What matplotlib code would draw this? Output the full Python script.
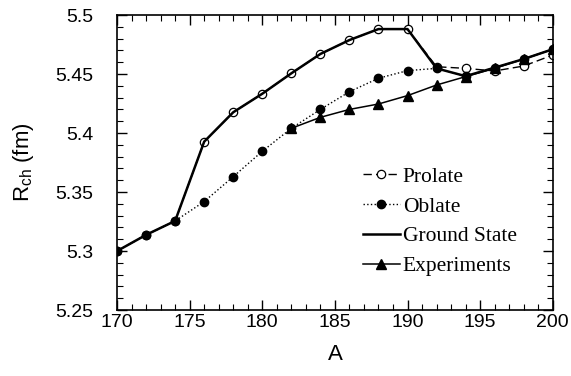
import numpy as np
import matplotlib.pyplot as plt
from matplotlib.ticker import MultipleLocator

# === Data ===
A = [170, 172, 174, 176, 178, 180, 182, 184, 186, 188, 190, 192, 194, 196, 198, 200]

prolate = [5.300, 5.3137, 5.3255, 5.3927, 5.4176, 5.4333, 5.4506, 5.467, 5.4788,
           5.4881, 5.4881, 5.4562, 5.4548, 5.4526, 5.4568, 5.4661]
oblate = [5.300, 5.3137, 5.3255, 5.3419, 5.363, 5.3845, 5.404, 5.420, 5.435,
          5.4464, 5.4529, 5.4548, 5.4482, 5.4554, 5.4627, 5.471]
ground = [5.300, 5.3137, 5.3255, 5.3927, 5.4176, 5.4333, 5.4506, 5.467, 5.4788,
          5.4881, 5.4881, 5.4548, 5.4482, 5.4554, 5.4627, 5.471]

A_exp = [182, 184, 186, 188, 190, 192, 194, 196, 198, 200]
exp = [5.404, 5.4133, 5.420, 5.4246, 5.4317, 5.4407, 5.4478, 5.4548, 5.4627, 5.471]

# === Plot ===
fig = plt.figure(figsize=(5.71, 3.76), dpi=100)
ax = fig.add_axes([0.205, 0.1755, 0.763, 0.7845])

ax.plot(A, prolate, linestyle=(0, (6, 3)), color='black', lw=1.0,
        marker='o', mfc='white', mec='black', ms=6, mew=0.9, label='Prolate')
ax.plot(A, oblate, linestyle=':', color='black', lw=1.0,
        marker='o', mfc='black', mec='black', ms=6, label='Oblate')
ax.plot(A, ground, '-', color='black', lw=1.8, label='Ground State')
ax.plot(A_exp, exp, '-', color='black', lw=1.1,
        marker='^', ms=6.5, mfc='black', label='Experiments')

ax.set_xlim(170, 200)
ax.set_ylim(5.25, 5.5)
ax.xaxis.set_major_locator(MultipleLocator(5))
ax.xaxis.set_minor_locator(MultipleLocator(1))
ax.yaxis.set_minor_locator(MultipleLocator(0.01))
ax.set_yticks([5.25, 5.3, 5.35, 5.4, 5.45, 5.5])
ax.set_yticklabels(['5.25', '5.3', '5.35', '5.4', '5.45', '5.5'])

ax.tick_params(which='both', direction='in', top=True, right=True,
               labelsize=14)
ax.tick_params(axis='y', pad=17)
ax.tick_params(axis='x', pad=3)
ax.tick_params(which='major', length=7, width=1)
ax.tick_params(which='minor', length=4, width=0.8)
for lab in ax.get_xticklabels() + ax.get_yticklabels():
    lab.set_family('Liberation Sans')
for s in ax.spines.values():
    s.set_linewidth(1.2)

ax.set_xlabel('A', fontsize=16, family='Liberation Sans', labelpad=9)
ax.set_ylabel(r'R$_{\mathregular{ch}}$ (fm)', fontsize=16,
              family='Liberation Sans', labelpad=14)

leg = ax.legend(loc='upper left', bbox_to_anchor=(0.545, 0.515), frameon=False,
                prop={'family': 'Liberation Serif', 'size': 15.5},
                handlelength=1.7, handletextpad=0.15, labelspacing=0.45,
                borderaxespad=0)

fig.savefig('out.png', dpi=100)
